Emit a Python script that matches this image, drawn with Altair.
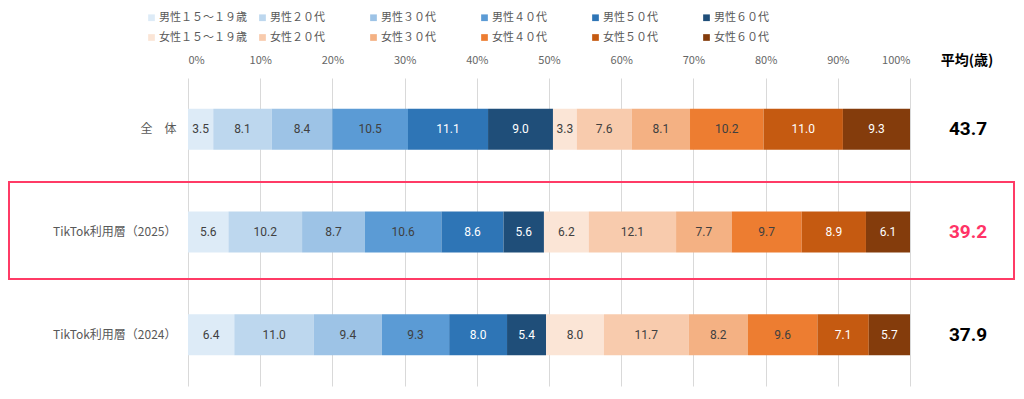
import altair as alt
import pandas as pd

rows = ["全　体", "TikTok利用層（2025）", "TikTok利用層（2024）"]
segments = ["男性１５～１９歳", "男性２０代", "男性３０代", "男性４０代", "男性５０代", "男性６０代",
            "女性１５～１９歳", "女性２０代", "女性３０代", "女性４０代", "女性５０代", "女性６０代"]
colors = ["#DDEBF7", "#BDD7EE", "#9DC3E6", "#5B9BD5", "#2E75B6", "#1F4E79",
          "#FBE5D6", "#F8CBAD", "#F4B183", "#ED7D31", "#C55A11", "#843C0C"]
text_dark = [True, True, True, True, False, False, True, True, True, True, False, False]

vals_all = [3.5, 8.1, 8.4, 10.5, 11.1, 9.0, 3.3, 7.6, 8.1, 10.2, 11.0, 9.3]
vals_2025 = [5.6, 10.2, 8.7, 10.6, 8.6, 5.6, 6.2, 12.1, 7.7, 9.7, 8.9, 6.1]
vals_2024 = [6.4, 11.0, 9.4, 9.3, 8.0, 5.4, 8.0, 11.7, 8.2, 9.6, 7.1, 5.7]
averages = [43.7, 39.2, 37.9]
avg_colors = ["#000000", "#FF3366", "#000000"]

recs = []
for r, vals in zip(rows, [vals_all, vals_2025, vals_2024]):
    for i, (s, v) in enumerate(zip(segments, vals)):
        recs.append({"row": r, "seg": s, "order": i, "value": v,
                     "label": f"{v:.1f}",
                     "tcol": "#404040" if text_dark[i] else "#FFFFFF"})
df = pd.DataFrame(recs)
avg_df = pd.DataFrame({"row": rows, "avg": [f"{a:.1f}" for a in averages], "col": avg_colors})

W, H = 722, 308
yscale = alt.Scale(domain=rows, paddingInner=0.6, paddingOuter=0.3)

base = alt.Chart(df).transform_stack(
    stack="value", groupby=["row"], sort=[alt.SortField("order")],
    offset="normalize", as_=["x0", "x1"]
).transform_calculate(mid="(datum.x0 + datum.x1) / 2")

bars = base.mark_bar().encode(
    x=alt.X("x0:Q", scale=alt.Scale(domain=[0, 1], nice=False),
            axis=alt.Axis(orient="top", format=".0%", values=[i / 10 for i in range(11)],
                          grid=True, gridColor="#D9D9D9", gridWidth=1, domain=False, ticks=False,
                          labelPadding=13, labelColor="#666666", labelFontSize=11,
                          labelFont="Noto Sans CJK JP", title=None)),
    x2="x1:Q",
    y=alt.Y("row:N", scale=yscale, sort=rows,
            axis=alt.Axis(domain=False, ticks=False, labelPadding=12, labelFontSize=12,
                          labelColor="#595959", labelFont="Noto Sans CJK JP", title=None)),
    color=alt.Color("seg:N", scale=alt.Scale(domain=segments, range=colors), sort=segments,
                    legend=alt.Legend(orient="none", legendX=-42, legendY=-66, columns=6,
                                      direction="horizontal", gridAlign="all",
                                      symbolType="square", symbolSize=45, symbolStrokeWidth=0,
                                      labelFontSize=11, labelColor="#595959",
                                      labelFont="Noto Sans CJK JP", labelOffset=2,
                                      columnPadding=10, rowPadding=8, padding=0, title=None,
                                      labelLimit=200)),
)

labels = base.mark_text(fontSize=12, font="Roboto").encode(
    x="mid:Q",
    y=alt.Y("row:N", scale=yscale, sort=rows),
    text="label:N",
    color=alt.Color("tcol:N", scale=None),
)

avg_text = alt.Chart(avg_df).mark_text(fontSize=19, fontWeight="bold", font="Roboto").encode(
    x=alt.value(780),
    y=alt.Y("row:N", scale=yscale, sort=rows),
    text="avg:N",
    color=alt.Color("col:N", scale=None),
)

header = alt.Chart(pd.DataFrame({"t": ["平均(歳)"]})).mark_text(
    fontSize=14, fontWeight="bold", font="Noto Sans CJK JP", color="#000000"
).encode(x=alt.value(779), y=alt.value(-17), text="t:N")

box = alt.Chart(pd.DataFrame({"k": [1]})).mark_rect(
    fill=None, stroke="#FF3B66", strokeWidth=2, clip=False
).encode(x=alt.value(-179), x2=alt.value(826), y=alt.value(104), y2=alt.value(201))

chart = alt.layer(bars, labels, avg_text, header, box).properties(
    width=W, height=H,
    padding={"left": 180, "top": 70, "right": 106, "bottom": 5},
    autosize=alt.AutoSizeParams(type="none"),
).configure_view(stroke=None)

chart.save("out.html", embed_options={"renderer": "svg", "actions": False})
